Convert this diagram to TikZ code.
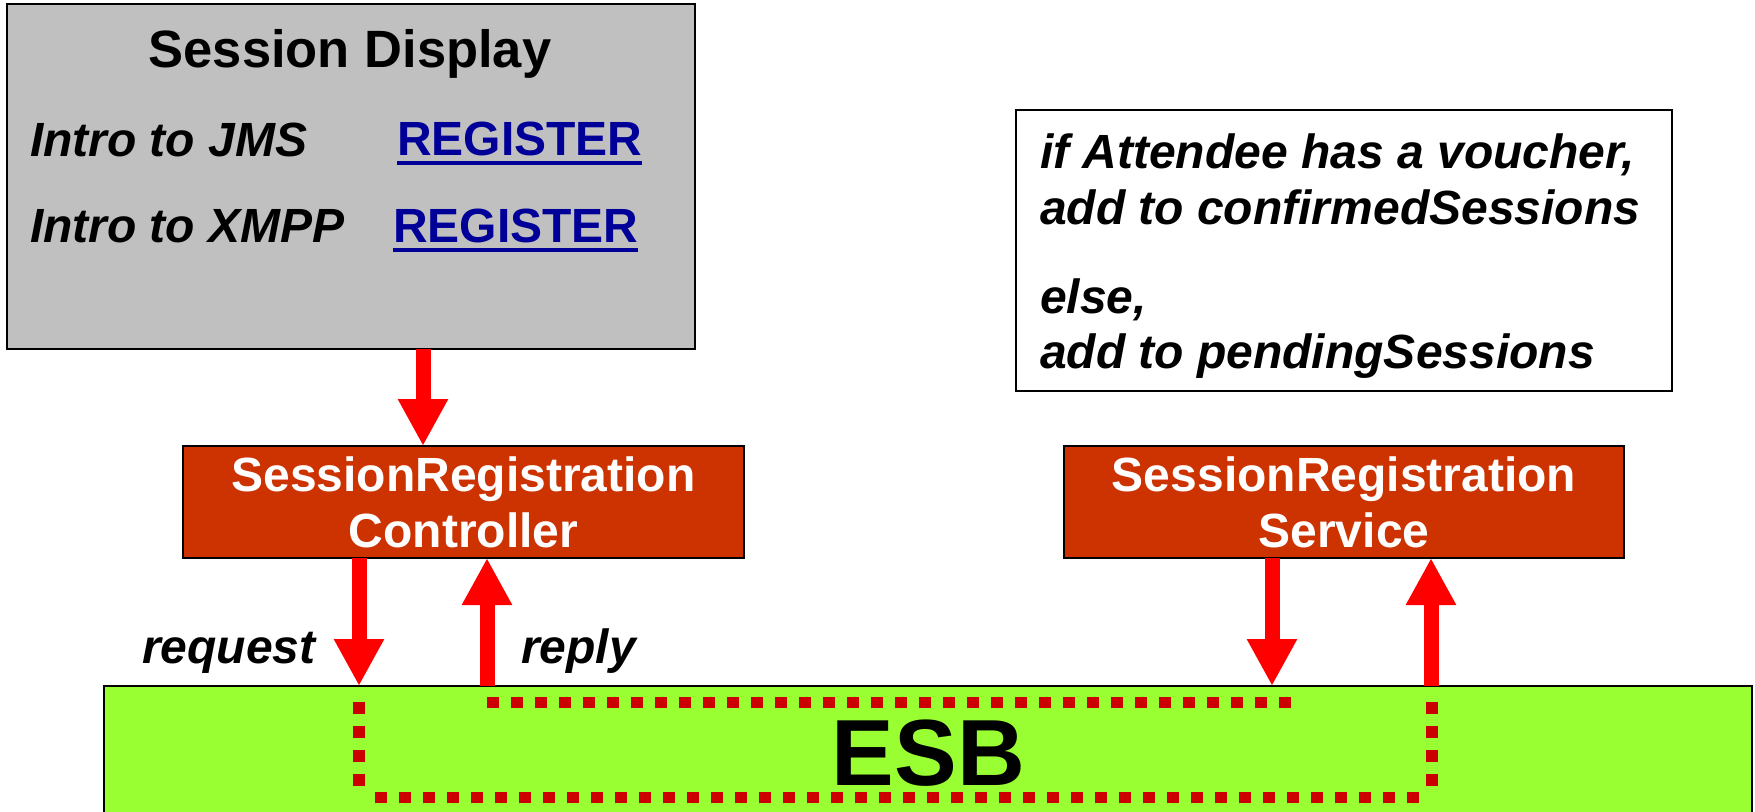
\documentclass[tikz,border=0pt]{standalone}
\usepackage{fontspec}
\setmainfont{Liberation Sans}
\usetikzlibrary{arrows.meta}
\definecolor{panelgray}{HTML}{C0C0C0}
\definecolor{compfill}{HTML}{CC3300}
\definecolor{busgreen}{HTML}{99FF33}
\definecolor{linkblue}{HTML}{000099}
\definecolor{flowred}{HTML}{FF0000}
\definecolor{routered}{HTML}{CC0000}
\begin{document}
\begin{tikzpicture}[x=1pt,y=-1pt,
  box/.style={rectangle, draw=black, line width=2.5pt, inner sep=0pt, outer sep=0pt},
  comp/.style={box, fill=compfill, text=white, align=center,
    font=\fontsize{48}{56}\selectfont\bfseries,
    minimum width=561pt, minimum height=112pt},
  txt/.style={inner sep=0pt, outer sep=0pt, anchor=base west,
    font=\fontsize{48}{56}\selectfont\bfseries\itshape},
  linktxt/.style={txt, text=linkblue, font=\fontsize{48}{56}\selectfont\bfseries},
  flow/.style={draw=flowred, fill=flowred, line width=15pt,
    -{Triangle[width=47pt,length=47pt]}},
  route/.style={draw=routered, line width=11.5pt, dash pattern=on 12pt off 12pt}]

\useasboundingbox (0,0) rectangle (1755,811);
\clip (0,0) rectangle (1755,811);

% session display panel
\node[box, fill=panelgray, minimum width=688pt, minimum height=345pt] (display) at (351,176.5) {};
\node[txt, anchor=base, font=\fontsize{52.5}{60}\selectfont\bfseries] (title) at (350,67) {Session Display};
\node[txt] (jms) at (30,156) {Intro to JMS};
\node[linktxt] (regjms) at (397,155) {REGISTER};
\draw[linkblue, line width=4pt] ([yshift=-8pt]regjms.base west) -- ([yshift=-8pt]regjms.base east);
\node[txt] (xmpp) at (30,242) {Intro to XMPP};
\node[linktxt] (regxmpp) at (393,242) {REGISTER};
\draw[linkblue, line width=4pt] ([yshift=-7.5pt]regxmpp.base west) -- ([yshift=-7.5pt]regxmpp.base east);

% service rule note
\node[box, line width=2pt, minimum width=656pt, minimum height=281pt] (rule) at (1344,250.5) {};
\node[txt] (r1) at (1040,168) {if Attendee has a voucher,};
\node[txt] (r2) at (1040,224) {add to confirmedSessions};
\node[txt] (r3) at (1040,313) {else,};
\node[txt] (r4) at (1040,368) {add to pendingSessions};

% components
\node[comp] (ctrl) at (463.5,502) {SessionRegistration\\Controller};
\node[comp, minimum width=560pt] (svc) at (1344,502) {SessionRegistration\\Service};

% enterprise service bus
\node[box, fill=busgreen, anchor=north west, minimum width=1648pt, minimum height=160pt] (esb) at (104,686) {};
\node[inner sep=0pt, anchor=base, font=\fontsize{94}{100}\selectfont\bfseries] (esbtext) at (928.5,785) {ESB};

% routes through the bus
\coordinate (ta) at (487,702.5);
\coordinate (tb) at (1291,702.5);
\coordinate (ba) at (375,797.5);
\coordinate (bb) at (1419,797.5);
\coordinate (la) at (359,702);
\coordinate (lb) at (359,786);
\coordinate (ra) at (1432,702);
\coordinate (rb) at (1432,786);
\draw[route] (ta) -- (tb);
\draw[route] (ba) -- (bb);
\draw[route] (la) -- (lb);
\draw[route] (ra) -- (rb);

% message flow arrows
\coordinate (xa) at (423,0);
\coordinate (xreq) at (359,0);
\coordinate (xrep) at (487,0);
\coordinate (xsin) at (1272,0);
\coordinate (xsout) at (1431,0);
\draw[flow] (display.south -| xa) -- (ctrl.north -| xa);
\draw[flow] (ctrl.south -| xreq) -- (esb.north -| xreq);
\draw[flow] (esb.north -| xrep) -- (ctrl.south -| xrep);
\draw[flow] (svc.south -| xsin) -- (esb.north -| xsin);
\draw[flow] (esb.north -| xsout) -- (svc.south -| xsout);

\node[txt] (reqlbl) at (142,663) {request};
\node[txt] (replbl) at (521,663) {reply};

\end{tikzpicture}
\end{document}
